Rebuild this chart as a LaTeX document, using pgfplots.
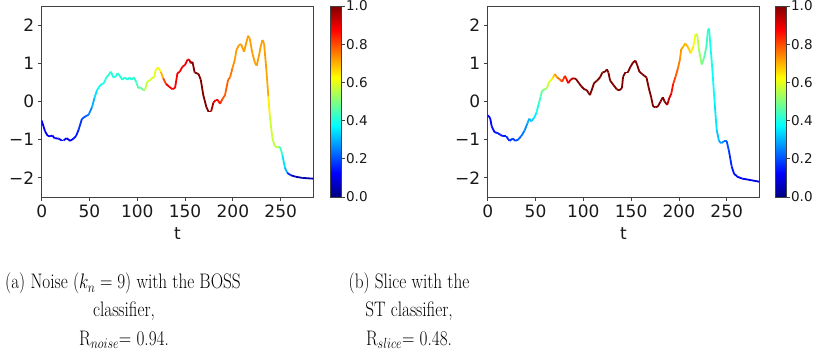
\RequirePackage{fix-cm}
\documentclass[border=0pt]{standalone}
\usepackage{fontspec}
\usepackage{graphicx}
\usepackage{pgfplots}
\usepackage{pgfplotstable}
\pgfplotsset{compat=1.18}
\newfontfamily\dejavu{DejaVu Sans}

\pgfplotstableread{
t v c
0 -0.50 0.12
3.5 -0.78 0.12
6.3 -0.90 0.12
8.8 -0.91 0.12
11.2 -0.89 0.12
13.3 -0.96 0.12
17.5 -0.97 0.12
21 -1.02 0.12
22.8 -1.02 0.12
26 -0.96 0.12
29.8 -1.03 0.12
33.3 -0.97 0.13
35.8 -0.91 0.14
38.6 -0.74 0.16
42 -0.46 0.19
45.6 -0.39 0.21
49 -0.35 0.24
52.6 -0.15 0.28
55.4 0.11 0.32
57.9 0.30 0.37
61.4 0.43 0.40
65 0.48 0.41
67.7 0.63 0.41
70.2 0.70 0.41
72.3 0.78 0.41
75 0.63 0.41
77.2 0.65 0.41
79.3 0.74 0.41
81.8 0.67 0.41
84.2 0.57 0.41
87 0.63 0.41
89.5 0.57 0.41
92 0.63 0.41
94 0.57 0.41
96.5 0.63 0.42
99 0.50 0.43
101 0.35 0.45
103.5 0.37 0.46
106 0.30 0.50
108 0.30 0.55
110.5 0.52 0.57
113 0.55 0.58
115 0.61 0.58
117.5 0.63 0.59
119.3 0.83 0.60
121.8 0.89 0.60
124.6 0.78 0.65
127 0.61 0.75
130 0.46 0.88
133.3 0.39 0.88
136.8 0.32 0.88
139.5 0.36 0.88
142 0.74 0.88
144.4 0.78 0.88
147.2 0.91 0.88
150 0.96 0.88
152.4 1.09 0.90
154.2 1.10 0.92
156 1.00 0.95
157.7 1.04 0.98
160 0.76 1.0
164 0.72 1.0
166.4 0.57 1.0
169 0.17 1.0
172.3 -0.15 1.0
174.4 -0.26 1.0
177.2 -0.26 1.0
179.6 -0.03 0.92
182 0.04 0.88
184.1 0.04 0.88
186.6 -0.06 0.85
189 0.06 0.80
191.8 0.17 0.78
195 0.57 0.78
197 0.63 0.77
199.5 0.87 0.75
202 1.09 0.72
203.7 1.35 0.72
206.4 1.48 0.72
208.5 1.50 0.72
211.7 1.30 0.72
213.4 1.48 0.72
215.9 1.72 0.72
217.6 1.65 0.72
220.4 1.26 0.72
223.2 1.00 0.72
224.9 0.94 0.72
227.4 1.22 0.72
229 1.43 0.72
230.9 1.61 0.72
232.6 1.52 0.72
235 0.83 0.72
237.1 0.13 0.70
238.5 -0.35 0.58
241.3 -0.96 0.57
243.7 -1.17 0.56
246.5 -1.20 0.55
249.3 -1.19 0.50
251.7 -1.39 0.38
254.5 -1.74 0.32
257 -1.87 0.28
260.5 -1.93 0.06
265.7 -1.97 0.05
272.6 -2.00 0.05
284 -2.02 0.05
}\leftdata

\pgfplotstableread{
t v c
0 -0.36 0.13
2.5 -0.43 0.13
4.2 -0.65 0.13
7 -0.80 0.14
10.5 -0.83 0.14
13.3 -0.87 0.15
15.8 -0.91 0.15
19.3 -0.91 0.16
22.8 -1.03 0.17
26.3 -0.97 0.18
28.8 -1.03 0.19
31.6 -1.00 0.21
35 -0.91 0.23
38.6 -0.76 0.25
41.4 -0.58 0.28
43.5 -0.45 0.30
45.6 -0.52 0.32
48.4 -0.43 0.34
50.9 -0.30 0.38
53.3 -0.07 0.42
55.4 0.13 0.45
56.8 0.28 0.48
59.6 0.32 0.52
62.1 0.35 0.55
63.9 0.50 0.58
66.7 0.57 0.62
68.4 0.63 0.66
70.2 0.72 0.70
72.6 0.63 0.75
75.4 0.58 0.78
77.9 0.52 0.80
80.7 0.67 0.84
82 0.61 0.86
84.2 0.48 0.88
86.7 0.57 0.92
89.5 0.61 0.96
92.3 0.59 1.0
95.4 0.48 1.0
98.2 0.39 1.0
101 0.32 1.0
103.5 0.30 1.0
105.3 0.23 1.0
107 0.17 1.0
108.8 0.30 1.0
111.2 0.48 1.0
114 0.54 1.0
117.5 0.63 1.0
120 0.76 1.0
122.8 0.78 1.0
124.6 0.84 1.0
126.3 0.76 1.0
128 0.55 1.0
131.6 0.43 1.0
135 0.32 1.0
137.5 0.29 1.0
140.4 0.35 1.0
141.6 0.65 1.0
144 0.76 1.0
146.5 0.76 1.0
149.3 0.91 1.0
152 1.02 1.0
154.5 1.07 1.0
156.3 0.96 1.0
158.7 0.78 1.0
161.5 0.72 1.0
164 0.67 1.0
166.1 0.63 1.0
168.5 0.35 1.0
171 0.11 1.0
173 -0.13 1.0
175.5 -0.15 1.0
178 -0.13 1.0
180.8 0.00 1.0
183.2 0.11 1.0
185 0.00 1.0
187.8 -0.09 0.97
189.9 0.09 0.92
192 0.20 0.88
194 0.46 0.84
196.5 0.65 0.80
199 0.87 0.77
201 1.09 0.74
202.4 1.37 0.72
204.5 1.43 0.70
206.6 1.52 0.70
208.7 1.45 0.69
210.5 1.37 0.68
212.2 1.26 0.66
215 1.43 0.63
217.5 1.77 0.60
219.2 1.74 0.57
221 1.35 0.54
223.8 0.97 0.50
226.2 1.13 0.47
228.7 1.43 0.44
230.4 1.87 0.42
231.5 1.91 0.41
232.5 1.61 0.40
235 0.83 0.39
237.4 -0.04 0.37
239.5 -0.74 0.34
242 -1.04 0.30
244.4 -1.09 0.28
247.2 -1.04 0.25
250 -1.04 0.22
252.4 -1.30 0.18
255.2 -1.70 0.15
257.7 -1.89 0.14
261.2 -1.97 0.13
266.4 -2.02 0.12
273.4 -2.05 0.11
284 -2.10 0.10
}\rightdata

\pgfplotsset{
  myaxis/.style={
    scale only axis,
    anchor=south west,
    width=271.5pt, height=191pt,
    xmin=0, xmax=284, ymin=-2.5, ymax=2.5,
    xtick={0,50,100,150,200,250},
    ytick={-2,-1,0,1,2},
    yticklabels={−2,−1,0,1,2},
    tick pos=left,
    tick align=outside,
    major tick length=4pt,
    tick style={black!75, line width=0.8pt},
    axis line style={black!75, line width=0.8pt},
    tick label style={font=\dejavu\fontsize{17}{20}\selectfont, text=black!90},
    /pgf/number format/assume math mode=true,
    xlabel={t},
    xlabel style={font=\dejavu\fontsize{17}{20}\selectfont, text=black!90, yshift=-3pt},
    colormap/jet,
    point meta min=0, point meta max=1,
    colorbar,
    colorbar style={
      at={(parent axis.north east)}, anchor=north west,
      width=10.7pt,
      xlabel={}, ylabel={},
      ytick={0,0.2,0.4,0.6,0.8,1},
      yticklabels={0.0,0.2,0.4,0.6,0.8,1.0},
      ytick pos=right, yticklabel pos=right,
      tick align=outside, major tick length=3.5pt,
      yticklabel style={font=\dejavu\fontsize{13.5}{16}\selectfont, text=black!90, inner sep=1pt},
      axis line style={black!75, line width=0.8pt},
    },
  }
}

\newcommand{\capt}[1]{\scalebox{0.82}[1]{#1}}

\begin{document}
\begin{tikzpicture}
\begin{axis}[myaxis, at={(41.7pt,159pt)}, colorbar style={xshift=9pt}]
\addplot[mesh, line width=1.8pt, point meta=explicit] table[x=t, y=v, meta=c] {\leftdata};
\end{axis}
\begin{axis}[myaxis, at={(487.7pt,159pt)}, colorbar style={xshift=8pt}]
\addplot[mesh, line width=1.8pt, point meta=explicit] table[x=t, y=v, meta=c] {\rightdata};
\end{axis}
\begin{scope}[every node/.style={font=\fontsize{21}{26}\selectfont, inner sep=0pt, anchor=base}]
\node at (123pt,67pt) {\capt{(a) Noise ($k_n = 9$) with the BOSS}};
\node at (124pt,39.3pt) {\capt{classifier,}};
\node at (124pt,10.3pt) {\capt{R$_{noise}$= 0.94.}};
\node at (409pt,67pt) {\capt{(b) Slice with the}};
\node at (409pt,39.3pt) {\capt{ST classifier,}};
\node at (409pt,10.3pt) {\capt{R$_{slice}$= 0.48.}};
\end{scope}
\pgfresetboundingbox
\useasboundingbox (0,0) rectangle (816pt,356pt);
\end{tikzpicture}
\end{document}
